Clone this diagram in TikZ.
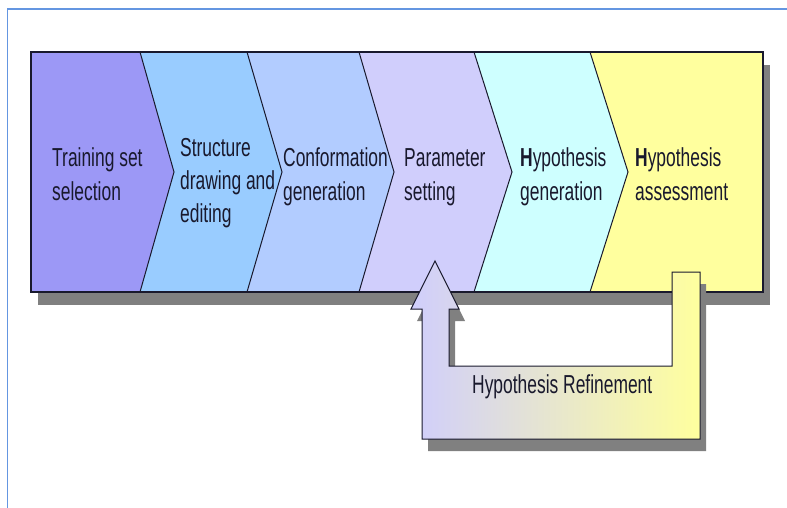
\documentclass[tikz,border=0pt]{standalone}
\usepackage{fontspec}
\newfontfamily\narrowsf[FakeStretch=0.67]{Liberation Sans}
\usetikzlibrary{calc}
\definecolor{trainC}{RGB}{156,152,246}
\definecolor{structC}{RGB}{153,204,255}
\definecolor{confC}{RGB}{178,204,255}
\definecolor{paramC}{RGB}{208,206,252}
\definecolor{hgenC}{RGB}{206,255,255}
\definecolor{hassC}{RGB}{255,255,158}
\definecolor{frameC}{RGB}{100,150,225}
\definecolor{txtC}{RGB}{25,25,45}
\tikzstyle{shadow}=[fill=black!50,draw=none]
\tikzstyle{edge}=[draw=txtC,line width=1pt]
\tikzstyle{stagetxt}=[anchor=base west,align=left,inner sep=0pt,text=txtC,
                font=\narrowsf\fontsize{26}{33}\selectfont]
\begin{document}
\begin{tikzpicture}[x=1pt,y=-1pt]
\useasboundingbox (0,0) rectangle (787,508);
\draw[frameC,line width=1.5pt] (7.5,508) -- (7.5,9) -- (787,9);
% corners of the band
\coordinate (NW) at (31,52);
\coordinate (SE) at (763,292);
\fill[shadow] ($(NW)+(7,13)$) rectangle ($(SE)+(7,13)$);
% stage borders: top, tip, bottom
\coordinate (t1) at (140,52); \coordinate (m1) at (174,172); \coordinate (b1) at (140,292);
\coordinate (t2) at (247,52); \coordinate (m2) at (282,172); \coordinate (b2) at (247,292);
\coordinate (t3) at (359,52); \coordinate (m3) at (394,172); \coordinate (b3) at (359,292);
\coordinate (t4) at (474,52); \coordinate (m4) at (512,172); \coordinate (b4) at (474,292);
\coordinate (t5) at (590,52); \coordinate (m5) at (628,172); \coordinate (b5) at (590,292);
\fill[trainC] (NW) -- (t1) -- (m1) -- (b1) -- (NW |- SE) -- cycle;
\fill[structC] (t1) -- (t2) -- (m2) -- (b2) -- (b1) -- (m1) -- cycle;
\fill[confC] (t2) -- (t3) -- (m3) -- (b3) -- (b2) -- (m2) -- cycle;
\fill[paramC] (t3) -- (t4) -- (m4) -- (b4) -- (b3) -- (m3) -- cycle;
\fill[hgenC] (t4) -- (t5) -- (m5) -- (b5) -- (b4) -- (m4) -- cycle;
\fill[hassC] (t5) -- (SE |- NW) -- (SE) -- (b5) -- (m5) -- cycle;
\foreach \i in {1,...,5}
  \draw[edge] (t\i) -- (m\i) -- (b\i);
\draw[edge,line width=1.5pt] (NW) rectangle (SE);
% refinement loop
\coordinate (tip) at (435,261);
\fill[shadow] ($(tip)+(6,12)$) -- ++(24,48) -- ++(-10,0) -- ++(0,57) -- ++(223,0)
  -- ++(0,-94) -- ++(28,0) -- ++(0,167) -- ++(-278,0) -- ++(0,-130) -- ++(-11,0) -- cycle;
\shadedraw[left color=paramC,right color=hassC,draw=txtC,line width=1pt]
  (tip) -- ++(24,48) -- ++(-10,0) -- ++(0,57) -- ++(223,0)
  -- ++(0,-94) -- ++(28,0) -- ++(0,167) -- ++(-278,0) -- ++(0,-130) -- ++(-11,0) -- cycle;
% stage names
\node[stagetxt] (train) at (52,200) {Training set\\selection};
\node[stagetxt] (struct) at (180,222) {Structure\\drawing and\\editing};
\node[stagetxt] (conf) at (283,200) {Conformation\\generation};
\node[stagetxt] (param) at (404,200) {Parameter\\setting};
\node[stagetxt] (hgen) at (520,200) {\textbf{H}ypothesis\\generation};
\node[stagetxt] (hass) at (635,200) {\textbf{H}ypothesis\\assessment};
\node[stagetxt] (refine) at (472,393) {Hypothesis Refinement};
\end{tikzpicture}
\end{document}
